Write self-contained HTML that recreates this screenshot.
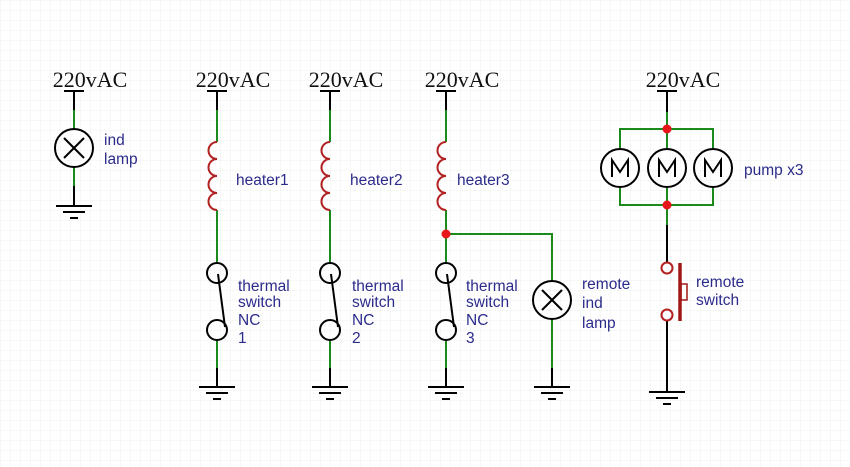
<!DOCTYPE html>
<html><head><meta charset="utf-8"><style>
html,body{margin:0;padding:0;background:#fff}
svg{display:block}
.l{font-family:"Liberation Sans",sans-serif;font-size:15.5px;fill:#2b2b8c}
.v{font-family:"Liberation Serif",serif;font-size:22px;fill:#111}
</style></head><body>
<svg width="850" height="467" viewBox="0 0 850 467" xmlns="http://www.w3.org/2000/svg">
<defs>
<pattern id="g" width="10" height="10" patternUnits="userSpaceOnUse">
<path d="M10 0H0V10" fill="none" stroke="#eef0ee" stroke-width="1"/>
</pattern>
<g id="gnd" stroke="#000" stroke-width="2" fill="none">
<line x1="-18" y1="0" x2="18" y2="0"/><line x1="-11" y1="6" x2="11" y2="6"/><line x1="-4" y1="12" x2="4" y2="12"/>
</g>
<g id="src"><line x1="-10" y1="0" x2="10" y2="0" stroke="#000" stroke-width="2"/></g>
<path id="coil" d="M0 0 a8.5 8.5 0 0 0 0 17 a8.5 8.5 0 0 0 0 17 a8.5 8.5 0 0 0 0 17 a8.5 8.5 0 0 0 0 17" fill="none" stroke="#b22222" stroke-width="2"/>
<g id="lamp" fill="none" stroke="#000" stroke-width="2"><circle r="19"/><line x1="-10" y1="-10" x2="10" y2="10"/><line x1="-10" y1="10" x2="10" y2="-10"/></g>
<g id="sw" fill="none" stroke="#000" stroke-width="2"><circle cx="0" cy="0" r="10"/><circle cx="0" cy="57" r="10"/><line x1="1" y1="1" x2="8" y2="54"/></g>
<g id="mot" fill="none" stroke="#000" stroke-width="2"><circle r="19"/><path d="M-8 9V-8L0 4L8 -8V9"/></g>
<g id="hc" stroke-width="2" fill="none">
<line x1="0" y1="91" x2="0" y2="110" stroke="#000"/>
<line x1="0" y1="110" x2="0" y2="142" stroke="#1a8a1a"/>
<line x1="0" y1="210" x2="0" y2="263" stroke="#1a8a1a"/>
<line x1="0" y1="340" x2="0" y2="368" stroke="#1a8a1a"/>
<line x1="0" y1="368" x2="0" y2="387" stroke="#000"/>
</g>
</defs>
<rect width="850" height="467" fill="url(#g)"/>
<g stroke-width="2" fill="none">
<line x1="74" y1="91" x2="74" y2="110" stroke="#000"/>
<line x1="74" y1="110" x2="74" y2="129" stroke="#1a8a1a"/>
<line x1="74" y1="167" x2="74" y2="186" stroke="#1a8a1a"/>
<line x1="74" y1="186" x2="74" y2="206" stroke="#000"/>
</g>
<g transform="translate(217,0)"><use href="#hc"/><use href="#coil" y="142"/><use href="#sw" y="273"/><use href="#gnd" y="387"/><use href="#src" y="91"/></g>
<g transform="translate(330,0)"><use href="#hc"/><use href="#coil" y="142"/><use href="#sw" y="273"/><use href="#gnd" y="387"/><use href="#src" y="91"/></g>
<g transform="translate(446,0)"><use href="#hc"/><use href="#coil" y="142"/><use href="#sw" y="273"/><use href="#gnd" y="387"/><use href="#src" y="91"/></g>
<use href="#src" x="74" y="91"/><use href="#lamp" x="74" y="148"/><use href="#gnd" x="74" y="206"/>
<g fill="none" stroke-width="2">
<path d="M446 234H552V281" stroke="#1a8a1a"/>
<line x1="552" y1="319" x2="552" y2="368" stroke="#1a8a1a"/>
<line x1="552" y1="368" x2="552" y2="387" stroke="#000"/>
</g>
<use href="#lamp" x="552" y="300"/><use href="#gnd" x="552" y="387"/>
<circle cx="446" cy="234" r="4.5" fill="#e8151a"/>
<g fill="none" stroke-width="2">
<line x1="667" y1="91" x2="667" y2="112" stroke="#000"/>
<path d="M667 112V149M620 149V129H713V149" stroke="#1a8a1a"/>
<path d="M620 187V205H713V187M667 187V225" stroke="#1a8a1a"/>
<line x1="667" y1="225" x2="667" y2="262" stroke="#000"/>
<line x1="667" y1="321" x2="667" y2="392" stroke="#000"/>
<circle cx="667" cy="268" r="5.5" stroke="#b22222"/>
<circle cx="667" cy="315" r="5.5" stroke="#b22222"/>
<line x1="680" y1="263" x2="680" y2="321" stroke="#a01818" stroke-width="3.5"/>
<rect x="681" y="284" width="6" height="16" stroke="#a01818" stroke-width="1.5"/>
</g>
<use href="#mot" x="620" y="168"/><use href="#mot" x="667" y="168"/><use href="#mot" x="713" y="168"/>
<circle cx="667" cy="129" r="4.5" fill="#e8151a"/><circle cx="667" cy="205" r="4.5" fill="#e8151a"/>
<use href="#src" x="667" y="91"/><use href="#gnd" x="667" y="392"/>
<text class="v" x="90" y="87" text-anchor="middle">220vAC</text>
<text class="v" x="233" y="87" text-anchor="middle">220vAC</text>
<text class="v" x="346" y="87" text-anchor="middle">220vAC</text>
<text class="v" x="462" y="87" text-anchor="middle">220vAC</text>
<text class="v" x="683" y="87" text-anchor="middle">220vAC</text>
<text class="l" x="104" y="145">ind</text><text class="l" x="104" y="164">lamp</text>
<text class="l" x="236" y="185">heater1</text>
<text class="l" x="350" y="185">heater2</text>
<text class="l" x="457" y="185">heater3</text>
<text class="l" x="238" y="291">thermal</text><text class="l" x="238" y="307">switch</text><text class="l" x="238" y="325">NC</text><text class="l" x="238" y="343">1</text>
<text class="l" x="352" y="291">thermal</text><text class="l" x="352" y="307">switch</text><text class="l" x="352" y="325">NC</text><text class="l" x="352" y="343">2</text>
<text class="l" x="466" y="291">thermal</text><text class="l" x="466" y="307">switch</text><text class="l" x="466" y="325">NC</text><text class="l" x="466" y="343">3</text>
<text class="l" x="582" y="289">remote</text><text class="l" x="582" y="308">ind</text><text class="l" x="582" y="328">lamp</text>
<text class="l" x="696" y="287">remote</text><text class="l" x="696" y="305">switch</text>
<text class="l" x="744" y="175">pump x3</text>
</svg>
</body></html>
